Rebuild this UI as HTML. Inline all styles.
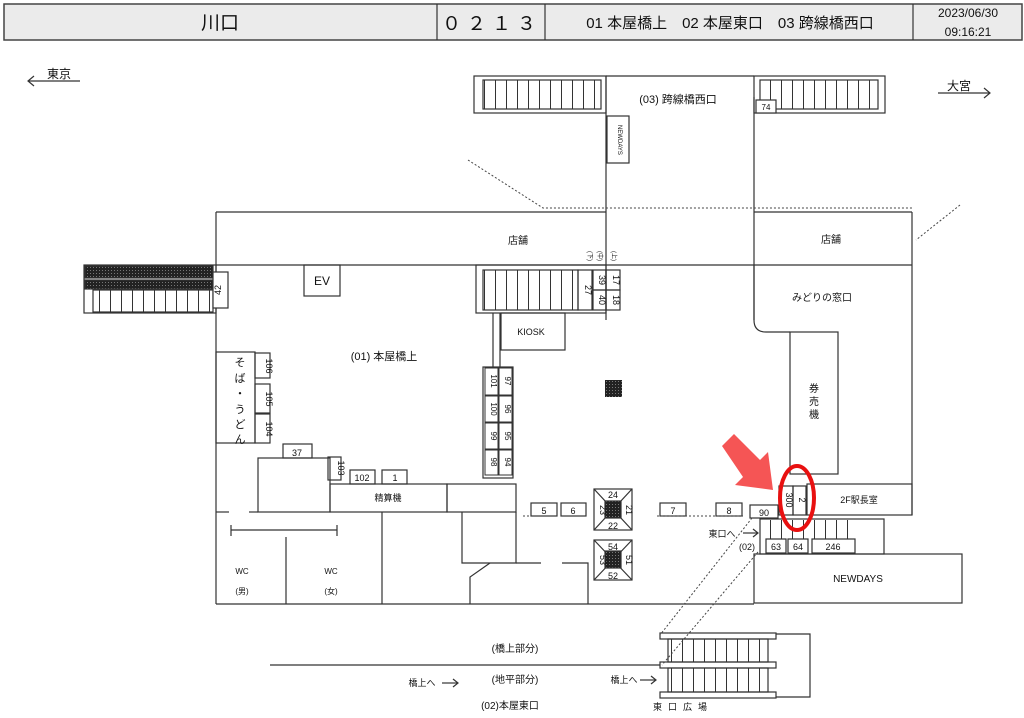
<!DOCTYPE html>
<html><head><meta charset="utf-8"><style>
body{margin:0;background:#fff}
svg{display:block;font-family:"Liberation Sans","Noto Sans CJK JP",sans-serif}
</style></head><body>
<svg width="1024" height="718" viewBox="0 0 1024 718" xmlns="http://www.w3.org/2000/svg">
<defs>
<pattern id="st" width="11" height="10" patternUnits="userSpaceOnUse"><line x1="0.5" y1="0" x2="0.5" y2="10" stroke="#333" stroke-width="1"/></pattern>
<pattern id="dk" width="3" height="3" patternUnits="userSpaceOnUse"><rect width="3" height="3" fill="#222"/><rect width="1" height="1" fill="#777"/></pattern>
</defs>
<g fill="none" stroke="#333" stroke-width="1.2">
<rect x="4" y="4" width="1018" height="36" fill="#ebebeb" stroke="#444" stroke-width="1.5"/>
<line x1="437" y1="4" x2="437" y2="40"/><line x1="545" y1="4" x2="545" y2="40"/><line x1="913" y1="4" x2="913" y2="40"/>
<line x1="28" y1="81" x2="80" y2="81"/><polyline points="34,76 28,81 34,86"/>
<line x1="938" y1="93" x2="990" y2="93"/><polyline points="984,88 990,93 984,98"/>
<rect x="474" y="76" width="132" height="37"/><rect x="483" y="80" width="118" height="29" fill="url(#st)"/>
<rect x="754" y="76" width="131" height="37"/><rect x="760" y="80" width="118" height="29" fill="url(#st)"/>
<line x1="606" y1="76" x2="754" y2="76"/>
<line x1="606" y1="76" x2="606" y2="320"/><line x1="754" y1="97" x2="754" y2="320"/>
<rect x="756" y="100" width="20" height="13" fill="#fff"/>
<rect x="607" y="116" width="22" height="47"/>
<line x1="216" y1="212" x2="606" y2="212"/><line x1="754" y1="212" x2="912" y2="212"/>
<line x1="216" y1="265" x2="912" y2="265"/>
<line x1="216" y1="212" x2="216" y2="604"/><line x1="912" y1="212" x2="912" y2="515"/>
<rect x="84" y="265" width="132" height="48"/>
<rect x="85" y="266" width="128" height="12" fill="url(#dk)"/>
<rect x="85" y="280" width="128" height="9" fill="url(#dk)"/>
<rect x="93" y="290" width="120" height="22" fill="url(#st)"/>
<rect x="213" y="272" width="15" height="36" fill="#fff"/>
<rect x="304" y="265" width="36" height="31"/>
<rect x="476" y="265" width="130" height="48"/><rect x="483" y="270" width="95" height="40" fill="url(#st)"/>
<rect x="578" y="270" width="14" height="40"/><rect x="593" y="270" width="13" height="20"/><rect x="593" y="290" width="13" height="20"/>
<rect x="606" y="270" width="14" height="20"/><rect x="606" y="290" width="14" height="20"/>
<path d="M754 265 V320 Q754 332 766 332 H790"/>
<rect x="790" y="332" width="48" height="142"/>
<rect x="807" y="484" width="105" height="31"/>
<rect x="779" y="486" width="14" height="29"/><rect x="793" y="486" width="13" height="29"/>
<rect x="501" y="313" width="64" height="37"/>
<line x1="493" y1="313" x2="493" y2="367"/><line x1="500" y1="313" x2="500" y2="367"/>
<rect x="483" y="367" width="30" height="111"/>
<g stroke-width="1">
<rect x="485" y="368" width="13" height="27"/><rect x="499" y="368" width="13" height="27"/>
<rect x="485" y="396" width="13" height="26"/><rect x="499" y="396" width="13" height="26"/>
<rect x="485" y="423" width="13" height="26"/><rect x="499" y="423" width="13" height="26"/>
<rect x="485" y="450" width="13" height="25"/><rect x="499" y="450" width="13" height="25"/>
</g>
<rect x="605" y="380" width="17" height="17" fill="url(#dk)" stroke="none"/>
<rect x="216" y="352" width="39" height="91"/>
<rect x="255" y="353" width="15" height="25"/><rect x="255" y="384" width="15" height="29"/><rect x="255" y="414" width="15" height="29"/>
<rect x="283" y="444" width="29" height="14"/>
<rect x="258" y="458" width="72" height="54"/>
<rect x="328" y="457" width="13" height="23"/>
<rect x="350" y="470" width="25" height="14"/><rect x="382" y="470" width="25" height="14"/>
<rect x="330" y="484" width="117" height="28"/><rect x="447" y="484" width="69" height="28"/>
<line x1="216" y1="512" x2="229" y2="512"/><line x1="249" y1="512" x2="258" y2="512"/>
<line x1="231" y1="530" x2="337" y2="530"/><line x1="231" y1="525" x2="231" y2="536"/><line x1="337" y1="525" x2="337" y2="536"/>
<line x1="286" y1="537" x2="286" y2="604"/><line x1="382" y1="512" x2="382" y2="604"/>
<line x1="216" y1="604" x2="754" y2="604"/>
<polyline points="462,512 462,563 516,563 516,512"/>
<polyline points="490,563 470,577 470,604"/>
<line x1="516" y1="563" x2="541" y2="563"/><polyline points="562,563 588,563 588,604"/>
<rect x="531" y="503" width="26" height="13"/><rect x="561" y="503" width="25" height="13"/>
<rect x="660" y="503" width="26" height="13"/><rect x="716" y="503" width="26" height="13"/>
<rect x="750" y="505" width="28" height="13"/>
<g><rect x="594" y="489" width="38" height="41"/><line x1="594" y1="489" x2="632" y2="530"/><line x1="632" y1="489" x2="594" y2="530"/><rect x="605" y="501" width="16" height="17" fill="url(#dk)"/></g>
<g><rect x="594" y="540" width="38" height="40"/><line x1="594" y1="540" x2="632" y2="580"/><line x1="632" y1="540" x2="594" y2="580"/><rect x="605" y="551" width="16" height="17" fill="url(#dk)"/></g>
<rect x="760" y="519" width="124" height="35"/><rect x="762" y="520" width="92" height="33" fill="url(#st)" stroke="none"/>
<rect x="766" y="539" width="20" height="14" fill="#fff"/><rect x="788" y="539" width="20" height="14" fill="#fff"/><rect x="812" y="539" width="43" height="14" fill="#fff"/>
<rect x="754" y="554" width="208" height="49"/>
<line x1="743" y1="533" x2="758" y2="533"/><polyline points="753,529 758,533 753,537"/>
<line x1="270" y1="665" x2="660" y2="665"/>
<rect x="660" y="633" width="116" height="6"/><rect x="660" y="662" width="116" height="6"/><rect x="660" y="692" width="116" height="6"/>
<rect x="668" y="639" width="100" height="23" fill="url(#st)"/><rect x="668" y="668" width="100" height="24" fill="url(#st)"/>
<polyline points="776,634 810,634 810,697 776,697"/>
<line x1="442" y1="683" x2="458" y2="683"/><polyline points="453,679 458,683 453,687"/>
<line x1="640" y1="680" x2="656" y2="680"/><polyline points="651,676 656,680 651,684"/>
</g>
<g fill="none" stroke="#444" stroke-width="1" stroke-dasharray="2,2">
<polyline points="468,160 543,208 913,208"/>
<line x1="960" y1="205" x2="916" y2="240"/>
<line x1="523" y1="516" x2="531" y2="516"/><line x1="657" y1="516" x2="743" y2="516"/>
<line x1="752" y1="518" x2="660" y2="635"/><line x1="758" y1="552" x2="662" y2="665"/>
</g>
<g fill="#111" font-size="11" text-anchor="middle">
<text x="220" y="29" font-size="19">川口</text>
<text x="492" y="30" font-size="19" letter-spacing="6">０２１３</text>
<text x="730" y="28" font-size="15">01 本屋橋上　02 本屋東口　03 跨線橋西口</text>
<text x="968" y="17" font-size="12">2023/06/30</text><text x="968" y="36" font-size="12">09:16:21</text>
<text x="59" y="78" font-size="12">東京</text><text x="959" y="90" font-size="12">大宮</text>
<text x="678" y="103">(03) 跨線橋西口</text>
<text x="766" y="110" font-size="8">74</text>
<text x="618" y="140" font-size="6" transform="rotate(90 618 140)">NEWDAYS</text>
<text x="518" y="244" font-size="10">店舗</text><text x="831" y="243" font-size="10">店舗</text>
<text x="322" y="285" font-size="12">EV</text>
<text x="221" y="290" font-size="9" transform="rotate(-90 221 290)">42</text>
<text x="585" y="290" font-size="9" transform="rotate(90 585 290)">27</text>
<text x="599" y="280" font-size="9" transform="rotate(90 599 280)">39</text>
<text x="599" y="300" font-size="9" transform="rotate(90 599 300)">40</text>
<text x="613" y="280" font-size="9" transform="rotate(90 613 280)">17</text>
<text x="613" y="300" font-size="9" transform="rotate(90 613 300)">18</text>
<text x="588" y="256" font-size="6" transform="rotate(90 588 256)">(下)</text><text x="598" y="256" font-size="6" transform="rotate(90 598 256)">(中)</text><text x="612" y="256" font-size="6" transform="rotate(90 612 256)">(上)</text>
<text x="822" y="301" font-size="10">みどりの窓口</text>
<text x="814" y="392" font-size="10">券</text><text x="814" y="405" font-size="10">売</text><text x="814" y="418" font-size="10">機</text>
<text x="531" y="335" font-size="9">KIOSK</text>
<text x="384" y="360">(01) 本屋橋上</text>
<g font-size="8">
<text x="491" y="381" transform="rotate(90 491 381)">101</text><text x="505" y="381" transform="rotate(90 505 381)">97</text>
<text x="491" y="409" transform="rotate(90 491 409)">100</text><text x="505" y="409" transform="rotate(90 505 409)">96</text>
<text x="491" y="436" transform="rotate(90 491 436)">99</text><text x="505" y="436" transform="rotate(90 505 436)">95</text>
<text x="491" y="462" transform="rotate(90 491 462)">98</text><text x="505" y="462" transform="rotate(90 505 462)">94</text>
</g>
<g font-size="9">
<text x="266" y="366" transform="rotate(90 266 366)">106</text>
<text x="266" y="399" transform="rotate(90 266 399)">105</text>
<text x="266" y="429" transform="rotate(90 266 429)">104</text>
<text x="338" y="468" transform="rotate(90 338 468)">103</text>
</g>
<g font-size="11"><text x="240" y="366">そ</text><text x="240" y="382">ば</text><text x="240" y="397">・</text><text x="240" y="413">う</text><text x="240" y="428">ど</text><text x="240" y="443">ん</text></g>
<text x="297" y="456" font-size="9">37</text>
<text x="362" y="481" font-size="9">102</text><text x="395" y="481" font-size="9">1</text>
<text x="388" y="501" font-size="9">精算機</text>
<text x="242" y="574" font-size="8">WC</text><text x="242" y="594" font-size="8">(男)</text>
<text x="331" y="574" font-size="8">WC</text><text x="331" y="594" font-size="8">(女)</text>
<g font-size="9">
<text x="544" y="514">5</text><text x="573" y="514">6</text><text x="673" y="514">7</text><text x="729" y="514">8</text><text x="764" y="516">90</text>
<text x="613" y="498">24</text><text x="613" y="529">22</text>
<text x="600" y="510" transform="rotate(90 600 510)">23</text><text x="626" y="510" transform="rotate(90 626 510)">21</text>
<text x="613" y="550">54</text><text x="613" y="579">52</text>
<text x="600" y="560" transform="rotate(90 600 560)">53</text><text x="626" y="560" transform="rotate(90 626 560)">51</text>
<text x="786" y="500" transform="rotate(90 786 500)">300</text><text x="799" y="500" transform="rotate(90 799 500)">2</text>
<text x="776" y="550">63</text><text x="798" y="550">64</text><text x="833" y="550">246</text>
</g>
<text x="859" y="503" font-size="9">2F駅長室</text>
<text x="858" y="582" font-size="10">NEWDAYS</text>
<text x="722" y="537" font-size="9">東口へ</text>
<text x="747" y="550" font-size="9">(02)</text>
<text x="515" y="652" font-size="10">(橋上部分)</text>
<text x="515" y="683" font-size="10">(地平部分)</text>
<text x="422" y="686" font-size="9">橋上へ</text>
<text x="624" y="683" font-size="9">橋上へ</text>
<text x="510" y="709" font-size="10">(02)本屋東口</text>
<text x="683" y="710" font-size="9" letter-spacing="6">東口広場</text>
</g>
<polygon points="722,446 734,434 760,460 768,452 773,490 735,485 743,477" fill="#f55555"/>
<ellipse cx="797" cy="498" rx="17" ry="32" fill="none" stroke="#e81010" stroke-width="4"/>
</svg>
</body></html>
